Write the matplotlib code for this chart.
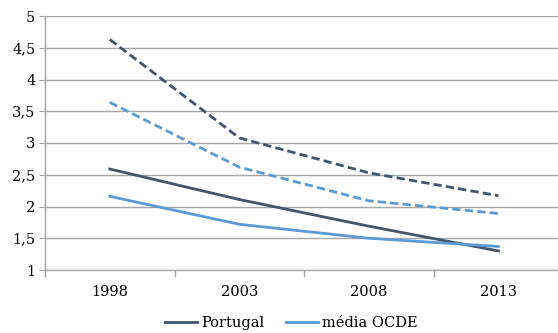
import numpy as np
import matplotlib.pyplot as plt
from matplotlib.ticker import FuncFormatter, FixedLocator

years = ["1998", "2003", "2008", "2013"]
portugal = [2.59, 2.11, 1.69, 1.30]
ocde = [2.16, 1.72, 1.50, 1.37]
portugal_dashed = [4.63, 3.08, 2.53, 2.17]
ocde_dashed = [3.64, 2.62, 2.09, 1.89]

dark = "#44546A"
light = "#5B9BD5"
grid = "#A6A6A6"

plt.rcParams['font.family'] = ['DejaVu Serif']

fig = plt.figure(figsize=(5.58, 3.33), dpi=100)
ax = fig.add_axes([45 / 558, 63 / 333, 513 / 558, 254 / 333])

x = np.arange(len(years))
ax.plot(x, portugal, color=dark, lw=2.0, label="Portugal")
ax.plot(x, ocde, color=light, lw=2.0, label="média OCDE")
ax.plot(x, portugal_dashed, color=dark, lw=2.0, ls=(0, (3, 1.5)))
ax.plot(x, ocde_dashed, color=light, lw=2.0, ls=(0, (3, 1.5)))

ax.set_ylim(1, 5)
ax.set_xlim(-0.5, 3.46)
ax.set_yticks(np.arange(1, 5.01, 0.5))
ax.yaxis.set_major_formatter(FuncFormatter(lambda v, p: f"{v:g}".replace(".", ",")))
ax.grid(axis="y", color=grid, lw=1.0)
ax.set_axisbelow(True)

ax.set_xticks(x)
ax.set_xticklabels(years)
ax.xaxis.set_minor_locator(FixedLocator([-0.5, 0.5, 1.5, 2.5]))
ax.tick_params(axis="x", which="major", length=0, pad=11, labelsize=10.5)
ax.tick_params(axis="x", which="minor", length=5, color=grid, width=1)
ax.tick_params(axis="y", length=4, color=grid, labelsize=10.5, pad=3)

for s in ["top", "right"]:
    ax.spines[s].set_visible(False)
for s in ["left", "bottom"]:
    ax.spines[s].set_color(grid)
    ax.spines[s].set_linewidth(1.0)

fig.legend(loc="lower center", bbox_to_anchor=(0.522, -0.03), ncol=2, frameon=False,
           fontsize=10.5, handlelength=2.2, handletextpad=0.3, columnspacing=1.5)

fig.savefig("out.png", dpi=100)
